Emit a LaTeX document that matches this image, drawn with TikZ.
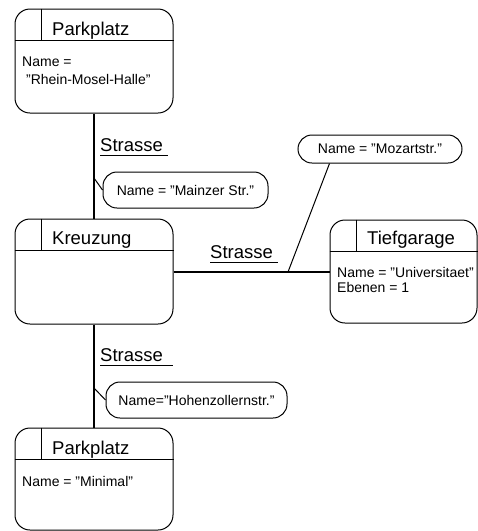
\documentclass[tikz,border=0pt]{standalone}
\usepackage{fontspec}
\setmainfont{Liberation Sans}
\usetikzlibrary{calc}
% underlined role name with a 1pt rule
\newcommand\strul[1]{\setbox0\hbox{#1}\rlap{\rule[-4.5pt]{\wd0}{1pt}}\box0}
\newcommand\hdfont{\fontsize{18.5}{22}\selectfont}
\newcommand\atfont{\fontsize{14}{17}\selectfont}
\begin{document}
\begin{tikzpicture}[x=1pt,y=-1pt,
  objbox/.style={draw, line width=1pt, rounded corners=15pt, inner sep=0pt, rectangle},
  bubble/.style={draw, line width=1pt, rounded corners=14pt, inner sep=0pt, font=\atfont},
  title/.style={anchor=base west, inner sep=0pt, font=\hdfont},
  attr/.style={anchor=base west, inner sep=0pt, align=left, font=\atfont},
  role/.style={anchor=base west, inner sep=0pt, font=\hdfont},
  link/.style={line width=2pt},
  note/.style={line width=1pt}]
\useasboundingbox (0,0) rectangle (478,531);

% objects
\node[objbox, minimum width=158pt, minimum height=104pt] (pp1) at (94,61) {};
\node[objbox, minimum width=158pt, minimum height=105pt] (kr) at (94,271.5) {};
\node[objbox, minimum width=147pt, minimum height=103pt] (tg) at (403.5,271.5) {};
\node[objbox, minimum width=158pt, minimum height=102pt] (pp2) at (94,479) {};

% header rows
\foreach \n in {pp1,kr,tg,pp2}{
  \draw[line width=1pt] ([yshift=-32pt]\n.north west) -- ([yshift=-32pt]\n.north east);
  \draw[line width=1pt] ([xshift=27pt]\n.north west) -- ([xshift=27pt,yshift=-32pt]\n.north west);
}

% titles
\node[title] (t1) at (52,35) {Parkplatz};
\node[title] (t2) at (52,244) {Kreuzung};
\node[title] (t3) at (367,244) {Tiefgarage};
\node[title] (t4) at (52,454) {Parkplatz};

% attributes (base anchor sits on the last line)
\node[attr] (a1) at (22,84) {Name =\\[1pt]\hspace*{3.9pt}"Rhein-Mosel-Halle"};
\node[attr] (a3) at (337,292) {Name = "Universitaet"\\[-2pt]Ebenen = 1};
\node[attr] (a4) at (22,486) {Name = "Minimal"};

% links
\draw[link] (pp1.south) -- (kr.north);
\draw[link] (kr.south) -- (pp2.north);
\draw[link] (kr.east) -- (tg.west);

% role names
\node[role] (r1) at (100,151) {\strul{Strasse\ }};
\node[role] (r2) at (210,258) {\strul{Strasse\ }};
\node[role] (r3) at (100,361) {\strul{Strasse\ \ }};

% attribute bubbles
\node[bubble, minimum width=165pt, minimum height=36pt] (b1) at (185.5,190) {Name = "Mainzer Str."};
\node[bubble, minimum width=181pt, minimum height=36pt] (b2) at (196.5,400) {Name="Hohenzollernstr."};
\node[bubble, minimum width=164pt, minimum height=28pt] (b3) at (380,149) {Name = "Mozartstr."};

\coordinate (j1) at (94,178);
\coordinate (j2) at (94,388);
\coordinate (j3) at (288,272);
\draw[note] (j1) -- (b1.west);
\draw[note] (j2) -- (b2.west);
\draw[note] (j3) -- ($(b3.south west)+(32,0)$);
\end{tikzpicture}
\end{document}
